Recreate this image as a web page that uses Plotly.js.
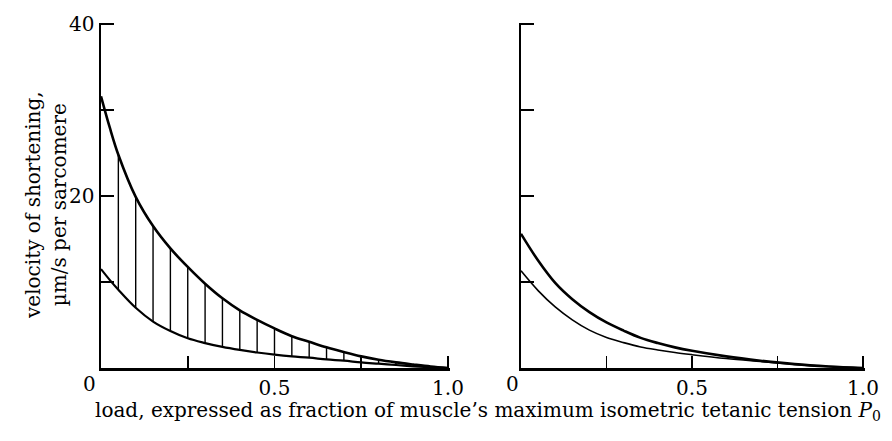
<!DOCTYPE html>
<html>
<head>
<meta charset="utf-8">
<script src="https://cdn.plot.ly/plotly-3.0.1.min.js"></script>
<style>html,body{margin:0;padding:0;background:#fff;}#chart{width:892px;height:441px;}</style>
</head>
<body>
<div id="chart"></div>
<script>
// Left panel: load (fraction of P0) and velocities (µm/s per sarcomere)
const loadLeft   = [0, 0.025, 0.05, 0.10, 0.15, 0.20, 0.25, 0.30, 0.35, 0.40, 0.45, 0.50, 0.55, 0.60, 0.65, 0.70, 0.75, 0.80, 0.85, 0.90, 0.95, 1.0];
const upperLeft  = [31.6, 28.0, 24.8, 19.9, 16.5, 13.9, 11.75, 9.8, 8.1, 6.7, 5.6, 4.6, 3.7, 3.05, 2.4, 1.85, 1.35, 0.95, 0.65, 0.4, 0.17, 0];
const lowerLeft  = [11.5, 10.25, 9.1, 7.0, 5.4, 4.3, 3.45, 2.9, 2.45, 2.1, 1.8, 1.55, 1.35, 1.2, 1.0, 0.85, 0.65, 0.5, 0.35, 0.2, 0.08, 0];
// Hatch positions (vertical lines between the curves)
const hatchLoads = [0.05, 0.10, 0.15, 0.20, 0.25, 0.30, 0.35, 0.40, 0.45, 0.50, 0.55, 0.60, 0.65, 0.70, 0.75, 0.80, 0.85, 0.90, 0.95];

// Right panel
const loadRight  = [0, 0.05, 0.10, 0.15, 0.20, 0.25, 0.30, 0.35, 0.40, 0.45, 0.50, 0.60, 0.70, 0.80, 0.90, 1.0];
const upperRight = [15.6, 12.5, 9.9, 8.0, 6.5, 5.3, 4.35, 3.5, 2.9, 2.4, 2.0, 1.35, 0.85, 0.45, 0.18, 0];
const lowerRight = [11.3, 9.0, 7.1, 5.6, 4.4, 3.55, 2.95, 2.45, 2.1, 1.8, 1.55, 1.1, 0.75, 0.42, 0.17, 0];

// Axis tick labels
const xLabelVals = [0.5, 1.0];
const xLabelText = ['0.5', '1.0'];
const yLabelVals = [20, 40];
const yLabelText = ['20', '40'];

const hx = [], hy = [];
hatchLoads.forEach(function (h) {
  const i = loadLeft.indexOf(h);
  hx.push(h, h, null);
  hy.push(lowerLeft[i], upperLeft[i], null);
});

const FONT = 'DejaVu Serif, Liberation Serif, serif';
const SM = 1.0;

const traces = [
  {x: hx, y: hy, xaxis: 'x', yaxis: 'y', mode: 'lines', line: {color: '#000', width: 1.4}, hoverinfo: 'skip'},
  {x: loadLeft, y: upperLeft, xaxis: 'x', yaxis: 'y', mode: 'lines', line: {color: '#000', width: 2.6, shape: 'spline', smoothing: SM}},
  {x: loadLeft, y: lowerLeft, xaxis: 'x', yaxis: 'y', mode: 'lines', line: {color: '#000', width: 2.2, shape: 'spline', smoothing: SM}},
  {x: loadRight, y: upperRight, xaxis: 'x2', yaxis: 'y2', mode: 'lines', line: {color: '#000', width: 2.6, shape: 'spline', smoothing: SM}},
  {x: loadRight, y: lowerRight, xaxis: 'x2', yaxis: 'y2', mode: 'lines', line: {color: '#000', width: 1.6, shape: 'spline', smoothing: SM}}
];

const W = 892, H = 441;
// small extension past the last tick so the end ticks are not clipped
const yDom = [(H - 368) / H, (H - 22.5) / H];
const yMax = 40 + 1.5 / 8.6;
const xMax = 1.0044;

function xAxis(dom, anchor) {
  return {
    domain: dom, range: [0, xMax], anchor: anchor, showgrid: false, zeroline: false,
    showline: true, linecolor: '#000', linewidth: 2.5,
    ticks: 'inside', ticklen: 12, tickwidth: 1.6, tickcolor: '#000',
    tickvals: xLabelVals, ticktext: xLabelText,
    minor: {tick0: 0, dtick: 0.25, ticks: 'inside', ticklen: 12, tickwidth: 1.6, tickcolor: '#000', showgrid: false},
    tickfont: {family: FONT, size: 20, color: '#000'}, fixedrange: true
  };
}
function yAxis(anchor, showLabels) {
  return {
    domain: yDom, range: [0, yMax], anchor: anchor, showgrid: false, zeroline: false,
    showline: true, linecolor: '#000', linewidth: 2.5,
    ticks: 'inside', ticklen: 13, tickwidth: 1.6, tickcolor: '#000',
    tickvals: yLabelVals, ticktext: yLabelText, showticklabels: showLabels,
    minor: {tick0: 0, dtick: 10, ticks: 'inside', ticklen: 13, tickwidth: 1.6, tickcolor: '#000', showgrid: false},
    tickfont: {family: FONT, size: 20, color: '#000'}, fixedrange: true
  };
}

const layout = {
  width: W, height: H,
  margin: {l: 0, r: 0, t: 0, b: 0},
  paper_bgcolor: '#fff', plot_bgcolor: '#fff',
  showlegend: false,
  xaxis: xAxis([101 / W, 449.5 / W], 'y'),
  xaxis2: xAxis([521 / W, 864.5 / W], 'y2'),
  yaxis: yAxis('x', true),
  yaxis2: yAxis('x2', false),
  annotations: [
    {xref: 'x', yref: 'paper', x: 0, y: (H - 384) / H, xanchor: 'center', yanchor: 'middle', xshift: -12, text: '0', showarrow: false,
     font: {family: FONT, size: 20, color: '#000'}},
    {xref: 'x2', yref: 'paper', x: 0, y: (H - 384) / H, xanchor: 'center', yanchor: 'middle', xshift: -9, text: '0', showarrow: false,
     font: {family: FONT, size: 20, color: '#000'}},
    {xref: 'paper', yref: 'paper', x: 46 / W, y: (H - 205) / H, xanchor: 'center', yanchor: 'middle', textangle: -90,
     text: 'velocity of shortening,<br>µm/s per sarcomere', showarrow: false,
     font: {family: FONT, size: 20, color: '#000'}},
    {xref: 'paper', yref: 'paper', x: 488 / W, y: (H - 411) / H, xanchor: 'center', yanchor: 'middle',
     text: 'load, expressed as fraction of muscle’s maximum isometric tetanic tension <i>P</i><sub>0</sub>',
     showarrow: false, font: {family: FONT, size: 20, color: '#000'}}
  ]
};

Plotly.newPlot('chart', traces, layout, {displayModeBar: false, staticPlot: true});
</script>
</body>
</html>
